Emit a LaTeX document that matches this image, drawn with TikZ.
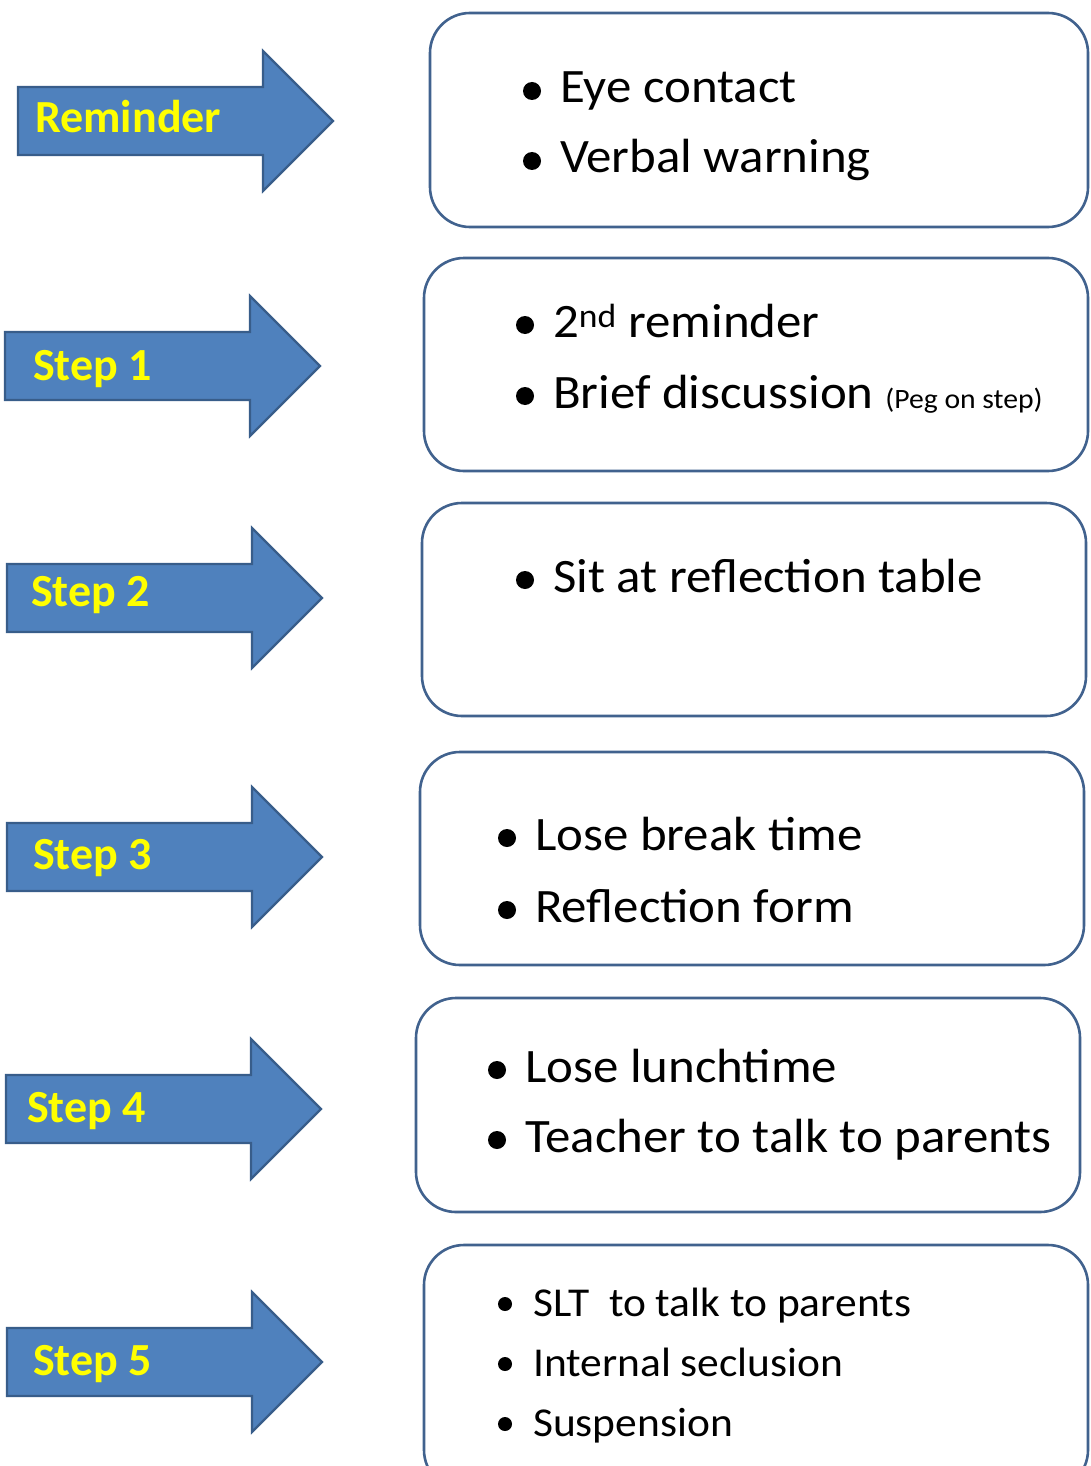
\documentclass[tikz,border=0pt]{standalone}
\usepackage{fontspec}
\setmainfont{Carlito}
\newfontfamily\boxfont{Carlito}[FakeStretch=1.06]
\definecolor{arrowfill}{HTML}{4F81BD}
\definecolor{arrowline}{HTML}{385D8A}
\definecolor{boxline}{HTML}{41628E}
\definecolor{labelyellow}{HTML}{FFFF00}
\tikzset{
  arrowshape/.style={fill=arrowfill, draw=arrowline, line width=2.2pt, line join=miter},
  steparrow/.pic={
    \path[arrowshape] (0,-34) -- (245,-34) -- (245,-70) -- (315,0) -- (245,70) -- (245,34) -- (0,34) -- cycle;
  },
  steplabel/.style={anchor=base west, inner sep=0pt, text=labelyellow,
    font=\fontsize{46}{54}\selectfont\bfseries},
  ruledbox/.style={draw=boxline, line width=2.6pt, rounded corners=40pt, fill=white,
    inner sep=0pt},
  itemtext/.style={anchor=base west, inner sep=0pt, font=\boxfont\fontsize{48}{58}\selectfont},
  smallitem/.style={anchor=base west, inner sep=0pt, font=\boxfont\fontsize{41}{49}\selectfont},
  bulletdot/.style={fill=black}
}
\begin{document}
\begin{tikzpicture}[x=1pt,y=-1pt]
\useasboundingbox (0,0) rectangle (1090,1466);
\clip (0,0) rectangle (1090,1466);
\fill[white] (0,0) rectangle (1090,1466);

% arrows
\pic at (18,121) {steparrow};
\pic at (5,366) {steparrow};
\pic at (7,598) {steparrow};
\pic at (7,857) {steparrow};
\pic at (6,1109) {steparrow};
\pic at (7,1362) {steparrow};

\node[steplabel] (l0) at (35,133) {Reminder};
\node[steplabel] (l1) at (33,380) {Step 1};
\node[steplabel] (l2) at (31,606) {Step 2};
\node[steplabel] (l3) at (33,869) {Step 3};
\node[steplabel] (l4) at (27,1122) {Step 4};
\node[steplabel] (l5) at (33,1375) {Step 5};

% boxes
\path[ruledbox] (430,13) rectangle (1088,227);
\path[ruledbox] (424,258) rectangle (1088,471);
\path[ruledbox] (422,503) rectangle (1086,716);
\path[ruledbox] (420,752) rectangle (1084,965);
\path[ruledbox] (416,998) rectangle (1080,1212);
\path[ruledbox] (424,1245) rectangle (1088,1490);

% box 0
\node[itemtext] (t0a) at (560,103) {Eye contact};
\node[itemtext] (t0b) at (560,173) {Verbal warning};
% box 1
\node[itemtext] (t1a) at (553,337) {2\textsuperscript{nd} reminder};
\node[itemtext] (t1b) at (553,408) {Brief discussion {\fontsize{28}{34}\selectfont(Peg on step)}};
% box 2
\node[itemtext] (t2a) at (553,592) {Sit at reflection table};
% box 3
\node[itemtext] (t3a) at (535,850) {Lose break time};
\node[itemtext] (t3b) at (535,922) {Reflection form};
% box 4
\node[itemtext] (t4a) at (525,1082) {Lose lunchtime};
\node[itemtext] (t4b) at (525,1152) {Teacher to talk to parents};
% box 5
\node[smallitem] (t5a) at (533,1316) {SLT\ \ to talk to parents};
\node[smallitem] (t5b) at (533,1376) {Internal seclusion};
\node[smallitem] (t5c) at (533,1436) {Suspension};

% bullets
\foreach \t in {t0a,t0b,t1a,t1b,t2a,t3a,t3b,t4a,t4b}{
  \fill[bulletdot] ([xshift=-28pt,yshift=12pt]\t.base west) circle (9pt);
}
\foreach \t in {t5a,t5b,t5c}{
  \fill[bulletdot] ([xshift=-28pt,yshift=12pt]\t.base west) circle (7pt);
}
\end{tikzpicture}
\end{document}
